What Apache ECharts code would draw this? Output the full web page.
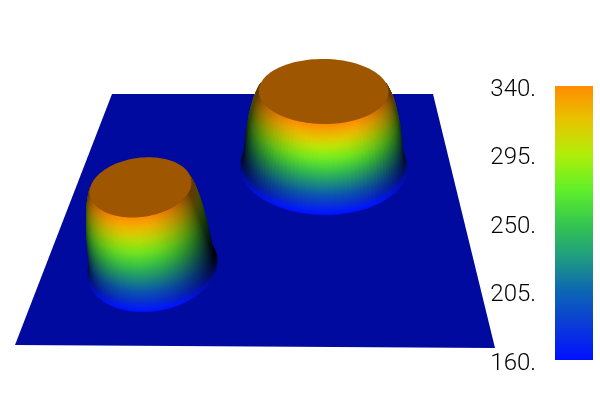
<!DOCTYPE html>
<html>
<head>
<meta charset="utf-8">
<style>html,body{margin:0;padding:0;background:#fff}#main{width:600px;height:400px}</style>
<script src="https://cdn.jsdelivr.net/npm/echarts@6/dist/echarts.min.js"></script>
</head>
<body>
<div id="main"></div>
<script>
// colour scale, evenly spaced from 160 to 340
var palette = ['#0010ff', '#0a3ad8', '#0c66b4', '#1f9c80', '#35c84e', '#62f028', '#b0ee08', '#e8c400', '#ff8c00'];
var scaleMin = 160, scaleMax = 340, scaleStep = 45;

// the two bumps on the plate (u, v in plate units, base radius in plate widths)
var bumpU = [0.655, 0.252];
var bumpV = [0.64, 0.237];
var bumpRadius = [0.23, 0.151];

// profile shared by both bumps: value against fraction of the base radius
var profileValue = [160, 162, 165, 170, 177, 187, 200, 220, 240, 260, 280, 300, 315, 325, 332, 337, 340];
var profileRadius = [1.00, 0.985, 0.97, 0.955, 0.945, 0.935, 0.925, 0.91, 0.895, 0.875, 0.85, 0.82, 0.795, 0.77, 0.75, 0.735, 0.725];

// view: plate corners on screen, vertical vanishing point, light
var corners = [[15, 345], [495, 348], [433, 94], [112, 94]];
var vanish = [323, 1375], lift = -0.075;
var depthAspect = 1.04, worldHeight = 0.29;
var light = [0.01, -0.78, 0.62];
var sideGain = 1.12, upperFloor = 0.4;
var camera = [0.62, -1.41, 1.6];
var sectors = 120;

var H = (function () {
    var p = corners;
    var dx1 = p[1][0] - p[2][0], dx2 = p[3][0] - p[2][0], sx = p[0][0] - p[1][0] + p[2][0] - p[3][0];
    var dy1 = p[1][1] - p[2][1], dy2 = p[3][1] - p[2][1], sy = p[0][1] - p[1][1] + p[2][1] - p[3][1];
    var den = dx1 * dy2 - dx2 * dy1;
    var g = (sx * dy2 - dx2 * sy) / den, h = (dx1 * sy - sx * dy1) / den;
    return {
        a: p[1][0] - p[0][0] + g * p[1][0], b: p[3][0] - p[0][0] + h * p[3][0], c: p[0][0],
        d: p[1][1] - p[0][1] + g * p[1][1], e: p[3][1] - p[0][1] + h * p[3][1], f: p[0][1], g: g, h: h
    };
})();

// plate position + height fraction to picture position
function project(u, v, t) {
    var w = H.g * u + H.h * v + 1 + t * lift;
    return [
        (H.a * u + H.b * v + H.c + t * lift * vanish[0]) / w,
        (H.d * u + H.e * v + H.f + t * lift * vanish[1]) / w
    ];
}
function heightOf(value) { return (value - scaleMin) / (scaleMax - scaleMin); }
function ringPoint(b, i, j) {
    var a = j / sectors * Math.PI * 2, r = bumpRadius[b] * profileRadius[i];
    return project(bumpU[b] + r * Math.cos(a), bumpV[b] + r * Math.sin(a) / depthAspect, heightOf(profileValue[i]));
}
function normalAt(b, i, j) {
    var lo = Math.max(i - 1, 0), hi = Math.min(i + 1, profileValue.length - 1);
    var dr = (profileRadius[hi] - profileRadius[lo]) * bumpRadius[b];
    var dz = (heightOf(profileValue[hi]) - heightOf(profileValue[lo])) * worldHeight;
    var a = j / sectors * Math.PI * 2;
    var len = Math.sqrt(dz * dz + dr * dr);
    return [dz * Math.cos(a) / len, dz * Math.sin(a) / len, -dr / len];
}
function shadeAt(b, i, j) {
    var n = normalAt(b, i, j);
    var s = sideGain * Math.max(0, n[0] * light[0] + n[1] * light[1] + n[2] * light[2]);
    return Math.min(1, Math.max(s, upperFloor * heightOf(profileValue[i])));
}
function colorOf(value, shade) {
    var c = echarts.color.parse(echarts.color.lerp(heightOf(value), palette));
    return 'rgb(' + Math.round(c[0] * shade) + ',' + Math.round(c[1] * shade) + ',' + Math.round(c[2] * shade) + ')';
}
function toCamera(b, i, j) {
    var a = (j + 0.5) / sectors * Math.PI * 2, r = bumpRadius[b] * (profileRadius[i] + profileRadius[i + 1]) / 2;
    return [
        camera[0] - bumpU[b] - r * Math.cos(a),
        camera[1] - bumpV[b] * depthAspect - r * Math.sin(a),
        camera[2] - heightOf((profileValue[i] + profileValue[i + 1]) / 2) * worldHeight
    ];
}
function distanceOf(b, i, j) {
    var d = toCamera(b, i, j);
    return d[0] * d[0] + d[1] * d[1] + d[2] * d[2];
}
function facesCamera(b, i, j) {
    var d = toCamera(b, i, j), n = normalAt(b, i, j + 0.5);
    return d[0] * n[0] + d[1] * n[1] + d[2] * n[2] > 0;
}

// kind, bump, ring, sector, value
var surfaceData = [['plate', 0, 0, 0, scaleMin]];
bumpU.forEach(function (u, b) {
    var quads = [];
    for (var i = 0; i < profileValue.length - 1; i++) {
        for (var j = 0; j < sectors; j++) {
            if (facesCamera(b, i, j)) quads.push(['side', b, i, j, profileValue[i]]);
        }
    }
    quads.sort(function (p, q) { return distanceOf(b, q[2], q[3]) - distanceOf(b, p[2], p[3]); });
    surfaceData = surfaceData.concat(quads);
    surfaceData.push(['cap', b, profileValue.length - 1, 0, scaleMax]);
});

function renderSurface(params, api) {
    var kind = api.value(0), b = api.value(1), i = api.value(2), j = api.value(3);
    var flat = colorOf(api.value(4), light[2]);
    var pts, fill;
    if (kind === 'plate') {
        pts = corners;
        fill = flat;
    } else if (kind === 'cap') {
        pts = [];
        for (var k = 0; k < sectors; k++) pts.push(ringPoint(b, i, k));
        fill = flat;
    } else {
        var p0 = ringPoint(b, i, j), p1 = ringPoint(b, i, j + 1), p2 = ringPoint(b, i + 1, j + 1), p3 = ringPoint(b, i + 1, j);
        pts = [p0, p1, p2, p3];
        // plate around the foot keeps the flat plate shade
        var sLow = i === 0 ? light[2] : shadeAt(b, i, j + 0.5);
        var sHigh = shadeAt(b, i + 1, j + 0.5);
        fill = new echarts.graphic.LinearGradient(
            (p0[0] + p1[0]) / 2, (p0[1] + p1[1]) / 2, (p2[0] + p3[0]) / 2, (p2[1] + p3[1]) / 2,
            [{ offset: 0, color: colorOf(profileValue[i], sLow) }, { offset: 1, color: colorOf(profileValue[i + 1], sHigh) }],
            true
        );
    }
    return {
        type: 'polygon',
        silent: true,
        shape: { points: pts.map(function (p) { return api.coord(p); }) },
        style: { fill: fill, stroke: kind === 'side' ? fill : null, lineWidth: kind === 'side' ? 1 : 0 }
    };
}

function renderColorbar(params, api) {
    var top = api.coord([0, scaleMax]), bottom = api.coord([1, scaleMin]);
    return {
        type: 'rect',
        silent: true,
        shape: { x: top[0], y: top[1], width: bottom[0] - top[0], height: bottom[1] - top[1] },
        style: {
            fill: new echarts.graphic.LinearGradient(0, 1, 0, 0, palette.map(function (c, k) {
                return { offset: k / (palette.length - 1), color: c };
            }))
        }
    };
}

var myChart = echarts.init(document.getElementById('main'));
var option = {
    animation: false,
    backgroundColor: '#fff',
    grid: [
        { left: 0, top: 0, width: 600, height: 400 },
        { left: 555, top: 86, width: 38, height: 274 },
        { left: 555, top: 89.5, width: 38, height: 274 }
    ],
    xAxis: [
        { gridIndex: 0, type: 'value', min: 0, max: 600, show: false },
        { gridIndex: 1, type: 'value', min: 0, max: 1, show: false },
        { gridIndex: 2, type: 'value', min: 0, max: 1, show: false }
    ],
    yAxis: [
        { gridIndex: 0, type: 'value', min: 0, max: 400, inverse: true, show: false },
        { gridIndex: 1, type: 'value', min: scaleMin, max: scaleMax, show: false },
        {
            gridIndex: 2, type: 'value', min: scaleMin, max: scaleMax, interval: scaleStep,
            axisLine: { show: false }, axisTick: { show: false }, splitLine: { show: false },
            axisLabel: {
                margin: 19, color: '#000', fontFamily: 'Roboto', fontWeight: 300, fontSize: 24,
                showMinLabel: true, showMaxLabel: true,
                formatter: function (v) { return v + '.'; }
            }
        }
    ],
    series: [
        {
            type: 'custom', xAxisIndex: 0, yAxisIndex: 0, progressive: 0, silent: true,
            clip: false, renderItem: renderSurface, data: surfaceData,
            encode: { x: 1, y: 2 }
        },
        {
            type: 'custom', xAxisIndex: 1, yAxisIndex: 1, silent: true,
            clip: false, renderItem: renderColorbar, data: [[0, scaleMin]]
        },
        {
            // keeps the labelled axis in use
            type: 'line', xAxisIndex: 2, yAxisIndex: 2, silent: true, symbol: 'none',
            lineStyle: { opacity: 0 }, data: [[0, scaleMin], [0, scaleMax]]
        }
    ]
};
myChart.setOption(option);
</script>
</body>
</html>
